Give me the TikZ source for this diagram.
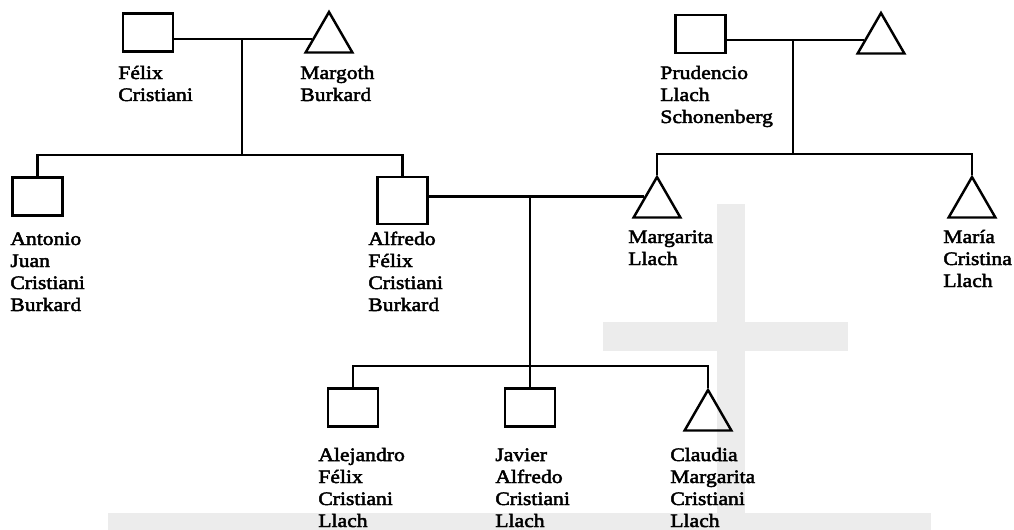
\documentclass[tikz,border=0pt]{standalone}
\usepackage{fontspec}
\setmainfont{Liberation Serif}[FakeStretch=1.14,FakeBold=2.5]
\usetikzlibrary{shapes.geometric,calc}
\definecolor{wmark}{gray}{0.925}
\tikzset{%
man/.style={draw,line width=1.4pt,rectangle,inner sep=0pt,minimum width=1cm,minimum height=0.76cm},
woman/.style={draw,line width=1.4pt,regular polygon,regular polygon sides=3,inner sep=0pt,minimum size=1.08cm},
% anchor is the baseline of the last line
who/.style={anchor=base west,align=left,inner sep=0pt,font=\fontsize{10.8}{12.52}\selectfont},
tie/.style={line width=1.4pt},
}

\begin{document}
\begin{tikzpicture}[x=0.02cm,y=-0.02cm]
        \useasboundingbox (0,0) rectangle (1014,530);
        % watermark
        \fill[wmark] (717,204) rectangle (745,513);
        \fill[wmark] (603,322) rectangle (848,351);
        \fill[wmark] (108,513) rectangle (931,530);
        % grandparents
        \node[man] (felix) at (148,32.5) {};
        \node[woman] (margoth) at (329,39) {};
        \node[man] (prudencio) at (700.5,34) {};
        \node[woman] (prudwife) at (881,40) {};
        % parents and their siblings
        \node[man] (antonio) at (37.5,196.5) {};
        \node[man,minimum height=0.94cm] (alfredo) at (402.5,200.5) {};
        \node[woman] (margarita) at (657,204) {};
        \node[woman] (maria) at (972,204) {};
        % children
        \node[man] (alejandro) at (353,407.5) {};
        \node[man] (javier) at (530,407.5) {};
        \node[woman] (claudia) at (708,417) {};
        % names
        \node[who] (felixname) at (118,101) {Félix\\Cristiani};
        \node[who] (margothname) at (300,101) {Margoth\\Burkard};
        \node[who] (prudencioname) at (660,123) {Prudencio\\Llach\\Schonenberg};
        \node[who] (antonioname) at (10,311) {Antonio\\Juan\\Cristiani\\Burkard};
        \node[who] (alfredoname) at (368,311) {Alfredo\\Félix\\Cristiani\\Burkard};
        \node[who] (margaritaname) at (628,265) {Margarita\\Llach};
        \node[who] (marianame) at (943,287) {María\\Cristina\\Llach};
        \node[who] (alejandroname) at (318,527) {Alejandro\\Félix\\Cristiani\\Llach};
        \node[who] (javiername) at (495,527) {Javier\\Alfredo\\Cristiani\\Llach};
        \node[who] (claudianame) at (670,527) {Claudia\\Margarita\\Cristiani\\Llach};
        % marriages
        \coordinate (fm) at (242,39);
        \coordinate (fmkids) at (242,155);
        \coordinate (pw) at (793,40);
        \coordinate (pwkids) at (793,154);
        \coordinate (margside) at ($(margarita.corner 1)!0.5!(margarita.corner 2)$);
        \coordinate (am) at (530,197);
        \coordinate (amkids) at (530,366);
        \draw[tie] (felix.east |- margoth) -- (margoth);
        \draw[tie] (prudencio.east |- prudwife) -- (prudwife);
        \draw[tie] (alfredo.east |- margside) -- (margside);
        % descent
        \draw[tie] (fm) -- (fmkids);
        \draw[tie] (antonio) |- (fmkids) -| (alfredo);
        \draw[tie] (pw) -- (pwkids);
        \draw[tie] (margarita) |- (pwkids) -| (maria);
        \draw[tie] (am |- margside) -- (javier);
        \draw[tie] (alejandro) |- (amkids) -| (claudia);
\end{tikzpicture}
\end{document}
